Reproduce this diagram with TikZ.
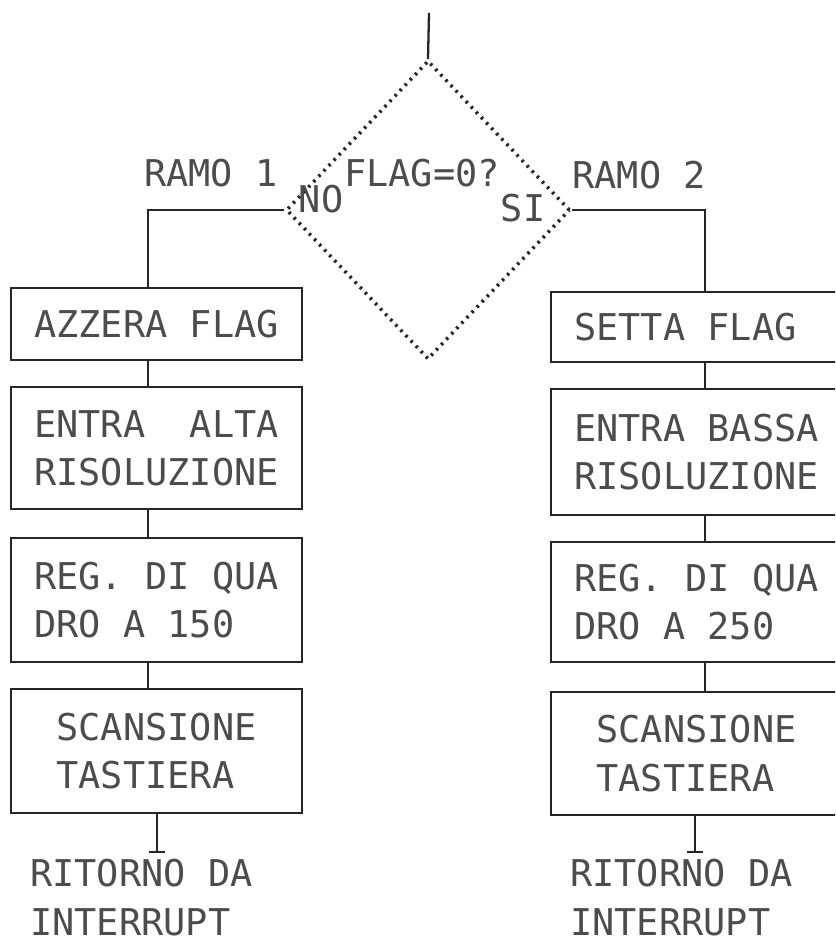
\documentclass[tikz,border=0pt]{standalone}
\usepackage{fontspec}
\setmonofont{DejaVu Sans Mono}[WordSpace={1,0,0}]
\usepackage{tikz}
\usetikzlibrary{shapes.geometric,arrows.meta}

\newcommand{\printfont}{\ttfamily\fontsize{21}{27.5}\selectfont}

\tikzset{
    procbox/.style={draw=black!85, line width=1.3pt, text=black!70, font=\printfont,
        align=left, inner sep=0pt, minimum width=5.82cm},
    decision/.style={diamond, draw=black!85, line width=2pt, dash pattern=on 1.4pt off 2.8pt,
        minimum width=5.68cm, minimum height=5.98cm, inner sep=0pt},
    lbl/.style={font=\printfont, text=black!70, inner sep=0pt, align=left},
    flow/.style={draw=black!85, line width=1.3pt},
}

\begin{document}
\begin{tikzpicture}[x=0.02cm, y=-0.02cm]
                    \useasboundingbox (0,0) rectangle (835,942);
                    \clip (0,0) rectangle (835,942);
                    % Nodes
                    \coordinate (start) at (429,13);
                    \node[decision] (test) at (428,210) {};
                    \node[lbl] (cond) at (422,173) {FLAG=0?};
                    \node[lbl] (no) at (321,199) {NO};
                    \node[lbl] (si) at (523,208) {SI};
                    \node[lbl] (ramoA) at (211,173) {RAMO 1};
                    \node[lbl] (ramoB) at (639,175) {RAMO 2};
                    \coordinate (colL) at (148,210);
                    \coordinate (colR) at (705,210);
                    % left branch
                    \node[procbox, minimum height=1.44cm] (azzera) at (156.5,324) {AZZERA FLAG};
                    \node[procbox, minimum height=2.44cm] (alta) at (156.5,448) {ENTRA~~ALTA\\RISOLUZIONE};
                    \node[procbox, minimum height=2.48cm] (regL) at (156.5,600) {REG. DI QUA\\DRO A 150};
                    \node[procbox, minimum height=2.48cm] (scanL) at (156.5,751) {SCANSIONE\\TASTIERA};
                    \coordinate (endL) at (157,853);
                    \node[lbl, anchor=north west] (retL) at (30,859) {RITORNO DA\\INTERRUPT};
                    % right branch
                    \node[procbox, minimum height=1.40cm] (setta) at (696.5,327) {SETTA FLAG\hphantom{X}};
                    \node[procbox, minimum height=2.52cm] (bassa) at (696.5,452) {ENTRA BASSA\\RISOLUZIONE};
                    \node[procbox, minimum height=2.40cm] (regR) at (696.5,602) {REG. DI QUA\\DRO A 250};
                    \node[procbox, minimum height=2.46cm] (scanR) at (696.5,753.5) {SCANSIONE\\TASTIERA};
                    \coordinate (endR) at (695,853);
                    \node[lbl, anchor=north west] (retR) at (570,859) {RITORNO DA\\INTERRUPT};
                    % Edges
                    \draw[flow] (start) -- (test.north);
                    \draw[flow] (test.west) -- (colL) -- (azzera.north -| colL);
                    \draw[flow] (azzera.south -| colL) -- (alta.north -| colL);
                    \draw[flow] (alta.south -| colL) -- (regL.north -| colL);
                    \draw[flow] (regL.south -| colL) -- (scanL.north -| colL);
                    \draw[flow, -{Bar[width=9pt]}] (scanL.south -| endL) -- (endL);
                    \draw[flow] (test.east) -- (colR) -- (setta.north -| colR);
                    \draw[flow] (setta.south -| colR) -- (bassa.north -| colR);
                    \draw[flow] (bassa.south -| colR) -- (regR.north -| colR);
                    \draw[flow] (regR.south -| colR) -- (scanR.north -| colR);
                    \draw[flow, -{Bar[width=9pt]}] (scanR.south -| endR) -- (endR);
                \end{tikzpicture}
\end{document}
